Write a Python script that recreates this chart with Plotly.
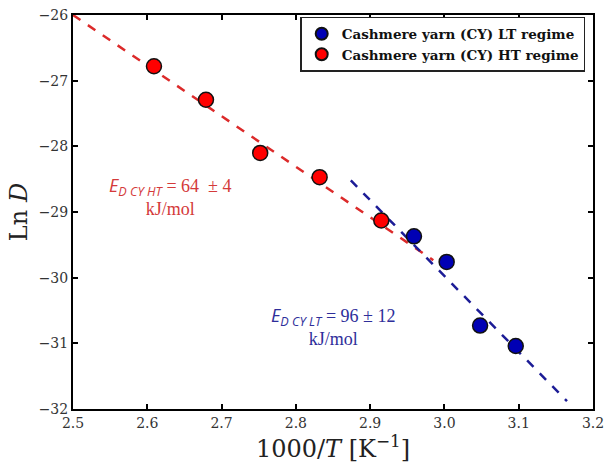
import plotly.graph_objects as go

# data
ht_x = [2.609, 2.679, 2.752, 2.832, 2.915]
ht_y = [-26.78, -27.29, -28.10, -28.47, -29.13]
lt_x = [2.959, 3.003, 3.048, 3.096]
lt_y = [-29.37, -29.76, -30.73, -31.04]

# fits (slope = -Ea/R in units of 1000 K)
ht_fit_x = [2.50, 2.985]
ht_slope, ht_icpt = -7.70, -6.75
lt_fit_x = [2.874, 3.165]
lt_slope, lt_icpt = -11.55, 4.675

ht_name = "Cashmere yarn (CY) HT regime"
lt_name = "Cashmere yarn (CY) LT regime"

fig = go.Figure()
fig.add_trace(go.Scatter(
    x=ht_fit_x, y=[ht_slope * v + ht_icpt for v in ht_fit_x], mode="lines",
    line=dict(color="#dc2a2a", width=2.5, dash="dash"), showlegend=False))
fig.add_trace(go.Scatter(
    x=lt_fit_x, y=[lt_slope * v + lt_icpt for v in lt_fit_x], mode="lines",
    line=dict(color="#1c1c96", width=2.5, dash="dash"), showlegend=False))
fig.add_trace(go.Scatter(
    x=lt_x, y=lt_y, mode="markers", name=lt_name,
    marker=dict(color="#0000b4", size=15, line=dict(color="#111111", width=1.5))))
fig.add_trace(go.Scatter(
    x=ht_x, y=ht_y, mode="markers", name=ht_name,
    marker=dict(color="#ff0000", size=15, line=dict(color="#111111", width=1.5))))

sans = "font-family:Open Sans"
serif = "font-family:Liberation Serif"
fig.add_annotation(
    x=2.63, y=-28.76, xref="x", yref="y", showarrow=False, align="center",
    text=(f"<span style=\"{sans}\"><i>E</i><sub><i>D CY HT</i></sub></span>"
          f"<span style=\"{serif}\"> = 64  ± 4</span><br>"
          f"<span style=\"{serif}\">kJ/mol</span>"),
    font=dict(family="Liberation Serif", size=18, color="#d43a3a"))
fig.add_annotation(
    x=2.85, y=-30.74, xref="x", yref="y", showarrow=False, align="center",
    text=(f"<span style=\"{sans}\"><i>E</i><sub><i>D CY LT</i></sub></span>"
          f"<span style=\"{serif}\"> = 96 ± 12</span><br>"
          f"<span style=\"{serif}\">kJ/mol</span>"),
    font=dict(family="Liberation Serif", size=18, color="#2e2e9a"))

axis_common = dict(
    showgrid=False, zeroline=False, showline=True, linecolor="black", linewidth=2,
    mirror="allticks", ticks="inside", ticklen=5, tickwidth=1.5, tickcolor="black",
    tickfont=dict(family="DejaVu Serif", size=14, color="#333333"))

fig.update_xaxes(range=[2.5, 3.2], dtick=0.1, tickformat=".1f",
                 title=dict(text="1000/<i>T</i> [K<sup>−1</sup>]",
                            font=dict(family="DejaVu Serif", size=24, color="#222222"),
                            standoff=6),
                 **axis_common)
fig.update_yaxes(range=[-32, -26], dtick=1,
                 title=dict(text="Ln <i>D</i>",
                            font=dict(family="DejaVu Serif", size=24, color="#222222"),
                            standoff=4),
                 **axis_common)

fig.update_layout(
    width=611, height=463,
    margin=dict(l=73, r=16, t=7, b=54),
    plot_bgcolor="white", paper_bgcolor="white",
    legend=dict(x=0.985, y=0.995, xanchor="right", yanchor="top",
                bordercolor="#222222", borderwidth=1.5, bgcolor="white",
                font=dict(family="DejaVu Serif", size=13.5, color="#111111", weight="bold"),
                tracegroupgap=0, itemsizing="constant"),
)

fig.write_html("out.html")
